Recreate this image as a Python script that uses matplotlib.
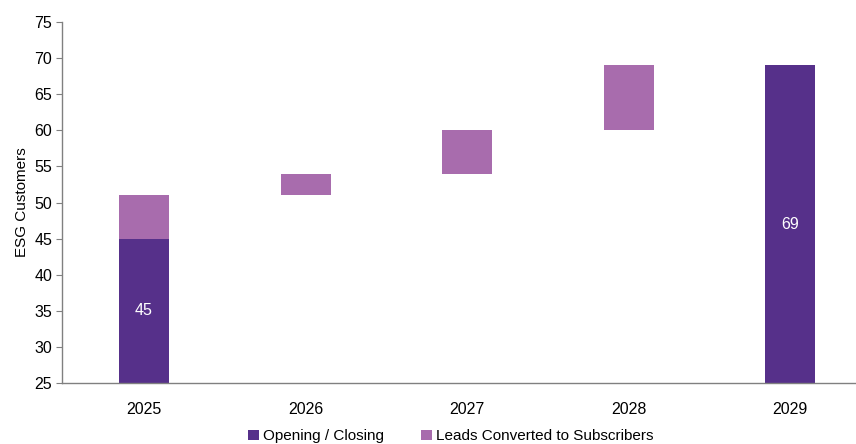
import numpy as np
import matplotlib.pyplot as plt

plt.rcParams['font.family'] = ['Liberation Sans', 'DejaVu Sans']

years = ['2025', '2026', '2027', '2028', '2029']
opening_closing = [45, 0, 0, 0, 69]
leads_base = [45, 51, 54, 60, 0]
leads = [6, 3, 6, 9, 0]

dark = '#56308a'
light = '#a86cad'

fig = plt.figure(figsize=(8.56, 4.44), dpi=100)
ax = fig.add_axes([62/856, 1 - 383/444, 794/856, 361/444])

x = np.arange(len(years))
w = 0.31
ax.bar(x, opening_closing, w, color=dark, label='Opening / Closing', zorder=2)
ax.bar(x, leads, w, bottom=leads_base, color=light,
       label='Leads Converted to Subscribers', zorder=2)

for i, v in enumerate(opening_closing):
    if v > 0:
        ax.text(x[i], (25 + v) / 2, str(v), ha='center', va='center',
                color='white', fontsize=11.5)

ax.set_ylim(25, 75)
ax.set_yticks(np.arange(25, 76, 5))
ax.set_xlim(-0.508, 4.408)
ax.set_xticks(x)
ax.set_xticklabels(years)
ax.tick_params(axis='x', length=0, pad=14, labelsize=11.5)
ax.tick_params(axis='y', length=4, color='#808080', labelsize=11.5, pad=3)
ax.set_ylabel('ESG Customers', fontsize=11, labelpad=4)

for s in ['top', 'right']:
    ax.spines[s].set_visible(False)
for s in ['left', 'bottom']:
    ax.spines[s].set_color('#808080')
    ax.spines[s].set_linewidth(1.0)

ax.legend(loc='center', bbox_to_anchor=(0.49, -0.148), ncol=2,
          frameon=False, fontsize=11, handlelength=0.7, handleheight=0.7,
          handletextpad=0.3, columnspacing=2.4, borderpad=0)

fig.savefig('out.png', dpi=100)
